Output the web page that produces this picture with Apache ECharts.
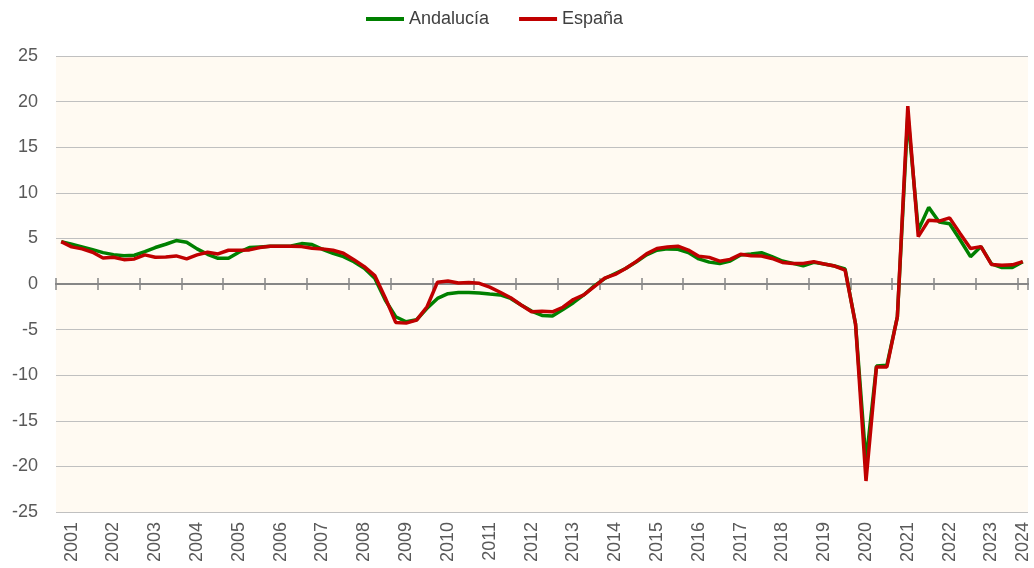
<!DOCTYPE html>
<html>
<head>
<meta charset="utf-8">
<script src="https://cdn.jsdelivr.net/npm/echarts@6/dist/echarts.min.js"></script>
<style>
  html, body { margin: 0; padding: 0; background: #ffffff; }
  #chart { width: 1034px; height: 568px; }
</style>
</head>
<body>
<div id="chart"></div>
<script>
// quarterly series, 2001 T1 .. 2024 T1
const years = ["2001", "2002", "2003", "2004", "2005", "2006", "2007", "2008",
    "2009", "2010", "2011", "2012", "2013", "2014", "2015", "2016", "2017",
    "2018", "2019", "2020", "2021", "2022", "2023", "2024"];
const quarter_names = ["T1", "T2", "T3", "T4"];
const quarter_count = 93;

const andalucia = [
    4.65, 4.36, 4.07, 3.77, 3.44, 3.22, 3.1, 3.15, 3.55, 4.0, 4.36, 4.76,
    4.58, 3.85, 3.26, 2.82, 2.82, 3.48, 4.0, 4.07, 4.14, 4.14, 4.18, 4.43,
    4.32, 3.81, 3.37, 3.0, 2.45, 1.72, 0.62, -1.76, -3.59, -4.14, -3.92, -2.67,
    -1.58, -1.06, -0.92, -0.92, -0.99, -1.1, -1.2, -1.58, -2.3, -2.97,
    -3.45, -3.5, -2.8, -2.05, -1.2, -0.2,
    0.6, 1.15, 1.7, 2.4, 3.2, 3.7, 3.85, 3.8, 3.45, 2.75, 2.4, 2.25,
    2.52, 3.18, 3.28, 3.43, 3.0, 2.52, 2.26, 2.0, 2.37, 2.19, 1.97, 1.64,
    -4.4, -19.5, -9.0, -8.9, -3.6, 18.5, 5.9, 8.4, 6.8, 6.6, 4.85, 3.0,
    4.1, 2.2, 1.8, 1.8, 2.45,
];
const espana = [
    4.65, 4.07, 3.85, 3.48, 2.86, 2.93, 2.67, 2.75, 3.19, 2.93, 2.97, 3.08,
    2.75, 3.19, 3.48, 3.3, 3.7, 3.7, 3.74, 4.0, 4.14, 4.14, 4.14, 4.1,
    3.92, 3.85, 3.7, 3.37, 2.67, 1.9, 0.92, -1.5, -4.21, -4.29, -3.96, -2.49,
    0.2, 0.32, 0.12, 0.17, 0.08, -0.35, -0.9, -1.5, -2.3, -3.04,
    -3.0, -3.05, -2.55, -1.7, -1.2, -0.3,
    0.65, 1.05, 1.7, 2.45, 3.3, 3.9, 4.05, 4.15, 3.72, 3.05, 2.92, 2.5,
    2.7, 3.25, 3.1, 3.07, 2.8, 2.37, 2.26, 2.26, 2.45, 2.19, 1.97, 1.53,
    -4.4, -21.6, -9.1, -9.1, -3.6, 19.5, 5.2, 7.0, 6.9, 7.25, 5.55, 3.9,
    4.1, 2.15, 2.05, 2.1, 2.45,
];

// "2001 T1", "2001 T2", ...
const quarters = years
    .flatMap((y) => quarter_names.map((q) => `${y} ${q}`))
    .slice(0, quarter_count);

const FONT = "'Liberation Sans', Arial, sans-serif";
const AXIS_GREY = "#868686";

// year label sits on the 2nd quarter, the last one on the final point
function year_label(value, index) {
    if (index % 4 === 1 || index === quarters.length - 1) return value.slice(0, 4);
    return "";
}

// value axis spanning the quarter bands (0..count), one tick per year start.
// two of them on the zero line so the ticks cross it
function zero_tick_axis(position) {
    return {
        type: "value",
        min: 0,
        max: quarters.length,
        interval: quarter_names.length,
        position,
        axisLine: {
            show: true,
            onZero: true,
            onZeroAxisIndex: 0,
            lineStyle: { color: AXIS_GREY, width: 2 },
        },
        axisTick: { show: true, length: 6, lineStyle: { color: AXIS_GREY, width: 1.5 } },
        axisLabel: { show: false },
        splitLine: { show: false },
    };
}

const chart = echarts.init(document.getElementById("chart"), null, { renderer: "canvas" });

chart.setOption({
    animation: false,
    textStyle: { fontFamily: FONT },
    legend: {
        top: 5,
        left: 361,
        icon: "rect",
        itemWidth: 38,
        itemHeight: 4,
        itemGap: 30,
        textStyle: { fontSize: 18, color: "#404040", fontFamily: FONT },
        data: ["Andalucía", "España"],
    },
    grid: {
        left: 56,
        right: 6,
        top: 56,
        bottom: 56,
        show: true,
        backgroundColor: "#fffaf2",
        borderWidth: 0,
    },
    xAxis: [
        {
            type: "category",
            data: quarters,
            position: "bottom",
            axisLine: { show: false, onZero: false },
            axisTick: { show: false },
            axisLabel: {
                interval: 0,
                rotate: 90,
                margin: 10,
                fontSize: 18,
                color: "#595959",
                fontFamily: FONT,
                formatter: year_label,
            },
            splitLine: { show: false },
        },
        zero_tick_axis("bottom"),
        zero_tick_axis("top"),
    ],
    yAxis: {
        type: "value",
        min: -25,
        max: 25,
        interval: 5,
        axisLine: { show: false },
        axisTick: { show: false },
        axisLabel: { fontSize: 18, color: "#595959", margin: 18, fontFamily: FONT },
        splitLine: { lineStyle: { color: "#c0c0c0", width: 1 } },
    },
    series: [
        {
            name: "Andalucía",
            type: "line",
            data: andalucia,
            showSymbol: false,
            lineStyle: { color: "#008000", width: 3.5 },
            itemStyle: { color: "#008000" },
        },
        {
            name: "España",
            type: "line",
            data: espana,
            showSymbol: false,
            lineStyle: { color: "#c00000", width: 3.5 },
            itemStyle: { color: "#c00000" },
        },
    ],
});
</script>
</body>
</html>
